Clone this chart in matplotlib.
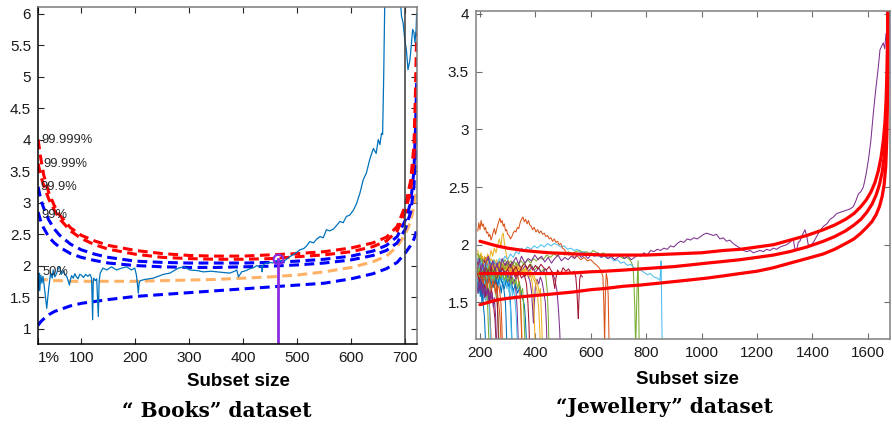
import matplotlib
matplotlib.use("Agg")
import matplotlib.pyplot as plt

plt.rcParams['font.family'] = ['Liberation Sans', 'DejaVu Sans']

# ---------------- "Books" panel ----------------
band_x = [20, 25, 30, 40, 50, 60, 80, 100, 125, 150, 200, 250, 300, 350, 400, 450,
          500, 550, 600, 640, 665, 685, 700, 710, 716, 719, 721]
b99999 = [4.00, 3.70, 3.45, 3.15, 2.95, 2.80, 2.60, 2.48, 2.39, 2.32, 2.24, 2.19, 2.16, 2.15,
          2.15, 2.17, 2.19, 2.22, 2.28, 2.36, 2.45, 2.62, 2.95, 3.35, 3.90, 4.80, 5.70]
b9999 = [3.62, 3.42, 3.28, 3.05, 2.88, 2.74, 2.55, 2.43, 2.33, 2.26, 2.18, 2.13, 2.11, 2.10,
         2.10, 2.11, 2.14, 2.17, 2.22, 2.30, 2.39, 2.55, 2.85, 3.20, 3.70, 4.40, 5.30]
b999 = [3.25, 3.05, 2.92, 2.72, 2.58, 2.48, 2.34, 2.25, 2.18, 2.13, 2.07, 2.05, 2.04, 2.04,
        2.04, 2.05, 2.07, 2.10, 2.15, 2.23, 2.32, 2.46, 2.72, 3.00, 3.50, 4.20, 4.90]
b99 = [2.85, 2.70, 2.60, 2.45, 2.36, 2.29, 2.19, 2.13, 2.08, 2.04, 2.00, 1.98, 1.97, 1.97,
       1.98, 1.99, 2.01, 2.04, 2.09, 2.16, 2.24, 2.36, 2.58, 2.85, 3.25, 3.70, 4.20]
b50 = [1.80, 1.79, 1.78, 1.77, 1.76, 1.76, 1.75, 1.75, 1.75, 1.75, 1.75, 1.76, 1.77, 1.78,
       1.80, 1.82, 1.85, 1.90, 1.97, 2.06, 2.15, 2.30, 2.50, 2.70, 2.95, 3.10, 3.25]
b01 = [1.05, 1.11, 1.15, 1.22, 1.27, 1.30, 1.36, 1.40, 1.43, 1.46, 1.51, 1.54, 1.57, 1.60,
       1.63, 1.66, 1.69, 1.72, 1.79, 1.87, 1.95, 2.05, 2.20, 2.32, 2.42, 2.50, 2.58]
band_names = ['99.999%', '99.99%', '99.9%', '99%', '50%']
band_label_x = [26, 30, 25, 26, 29]
band_label_y = [4.00, 3.62, 3.245, 2.80, 1.90]

books_x = [20, 21, 22, 23, 25, 27, 29, 31, 33, 36, 38, 40, 43, 46, 48, 51, 54, 57, 60, 63,
           67, 70, 73, 76, 78, 80, 82, 85, 88, 91, 94, 97, 100, 104, 108, 112, 116, 119,
           121, 122, 123, 126, 128.5, 130, 131.5, 133, 135, 140, 147, 156, 165, 175, 184,
           193, 199, 202, 204, 205.6, 207, 209, 218, 233, 252, 264, 280, 290, 301, 315,
           326, 340, 351, 363, 375, 384, 388, 391, 397, 405, 412, 420, 425, 430, 434, 435,
           436, 440, 449, 455, 462, 470, 477, 486, 496, 505, 512, 517, 523, 530, 536, 542,
           548, 554, 560, 567, 573, 579, 585, 591, 597, 604, 610, 616, 622, 628, 634, 641,
           646, 650, 653, 656, 658, 660, 662, 675, 690, 693, 696, 699, 702, 705, 708.7,
           713.7, 716, 718, 720, 721]
books_y = [1.77, 1.62, 1.88, 1.60, 1.85, 1.72, 1.83, 1.70, 1.55, 1.32, 1.50, 1.66, 1.88,
           1.80, 1.93, 1.82, 1.87, 1.95, 1.98, 1.86, 1.92, 1.85, 1.83, 1.75, 1.69, 1.78,
           1.84, 1.80, 1.87, 1.82, 1.79, 1.86, 1.85, 1.81, 1.86, 1.83, 1.86, 1.80, 1.14,
           1.70, 1.80, 1.76, 1.79, 1.50, 1.19, 1.75, 1.88, 1.96, 1.93, 1.98, 1.93, 1.96,
           1.98, 1.93, 1.96, 1.85, 1.70, 1.56, 1.72, 1.76, 1.78, 1.80, 1.86, 1.88, 1.96,
           1.98, 1.93, 1.92, 1.90, 1.91, 1.90, 1.89, 1.88, 1.91, 1.93, 1.82, 1.90, 1.92,
           1.95, 1.97, 2.00, 1.98, 1.99, 1.90, 2.00, 2.03, 2.05, 2.04, 2.08, 2.07, 2.08,
           2.14, 2.19, 2.25, 2.27, 2.31, 2.38, 2.36, 2.42, 2.46, 2.44, 2.57, 2.55, 2.58,
           2.64, 2.70, 2.68, 2.78, 2.80, 2.88, 2.99, 3.15, 3.36, 3.47, 3.68, 3.86, 3.78,
           4.00, 3.92, 4.10, 4.08, 5.00, 6.20, 7.50, 6.30, 5.96, 5.85, 5.59, 5.43, 5.11,
           5.27, 5.75, 5.70, 5.54, 5.75, 6.00]

stem_x = 465
stem_y = 2.10
vline_x = 700

books_xticks = [19.8, 100, 200, 300, 400, 500, 600, 700]
books_xticklabels = ['1%', '100', '200', '300', '400', '500', '600', '700']
books_yticks = [1, 1.5, 2, 2.5, 3, 3.5, 4, 4.5, 5, 5.5, 6]
books_yticklabels = ['1', '1.5', '2', '2.5', '3', '3.5', '4', '4.5', '5', '5.5', '6']

# ---------------- "Jewellery" panel ----------------
red_hi_x = [200, 230, 260, 300, 356, 400, 450, 500, 537, 600, 650, 717, 800, 900, 1000, 1080,
            1140, 1200, 1260, 1320, 1380, 1440, 1480, 1520, 1550, 1575, 1595, 1612, 1626,
            1638, 1648, 1656, 1662, 1666, 1669, 1671, 1672.5]
red_hi_y = [2.03, 2.01, 1.99, 1.97, 1.95, 1.94, 1.93, 1.925, 1.92, 1.915, 1.91, 1.91, 1.91,
            1.92, 1.93, 1.95, 1.96, 1.98, 2.00, 2.04, 2.08, 2.13, 2.17, 2.22, 2.27, 2.33,
            2.39, 2.46, 2.54, 2.64, 2.76, 2.90, 3.06, 3.25, 3.48, 3.75, 4.05]
red_mid_x = [200, 260, 330, 400, 470, 537, 600, 650, 720, 778, 840, 900, 960, 1018, 1080,
             1139, 1200, 1259, 1319, 1380, 1440, 1480, 1520, 1550, 1575, 1596, 1615, 1630,
             1642, 1652, 1659, 1664, 1668, 1671, 1673]
red_mid_y = [1.75, 1.75, 1.75, 1.75, 1.75, 1.755, 1.765, 1.77, 1.78, 1.79, 1.80, 1.81, 1.825,
             1.84, 1.855, 1.87, 1.89, 1.91, 1.94, 1.98, 2.03, 2.07, 2.12, 2.17, 2.22, 2.28,
             2.35, 2.43, 2.52, 2.63, 2.76, 2.92, 3.15, 3.50, 4.05]
red_lo_x = [200, 230, 260, 300, 356, 400, 450, 537, 600, 650, 720, 778, 840, 900, 960, 1018,
            1080, 1139, 1200, 1259, 1319, 1380, 1440, 1480, 1520, 1550, 1575, 1596, 1615,
            1630, 1642, 1652, 1659, 1665, 1669, 1672, 1674]
red_lo_y = [1.48, 1.50, 1.52, 1.535, 1.55, 1.56, 1.57, 1.59, 1.61, 1.62, 1.64, 1.65, 1.665,
            1.68, 1.695, 1.71, 1.73, 1.75, 1.77, 1.80, 1.84, 1.88, 1.92, 1.96, 2.01, 2.05,
            2.10, 2.15, 2.20, 2.26, 2.33, 2.42, 2.52, 2.68, 2.95, 3.40, 4.05]

purple_x = [192, 198, 204, 210, 216, 222, 230, 238, 246, 254, 262, 270, 280, 290, 300, 310,
            320, 330, 340, 350, 362, 374, 386, 398, 410, 422, 434, 446, 458, 470, 482, 494,
            506, 518, 530, 542, 554, 566, 578, 590, 602, 614, 626, 638, 650, 662, 674, 686,
            698, 710, 722, 734, 746, 758, 770, 780, 792, 804, 816, 828, 840, 852, 864, 876,
            888, 900, 912, 924, 936, 948, 960, 972, 984, 996, 1008, 1018, 1030, 1042, 1054,
            1066, 1078, 1090, 1102, 1114, 1126, 1139, 1151, 1163, 1175, 1187, 1199, 1211,
            1223, 1235, 1247, 1259, 1271, 1283, 1295, 1307, 1319, 1331, 1337, 1343, 1349,
            1355, 1361, 1367, 1373, 1379, 1385, 1391, 1397, 1406, 1415, 1427, 1440, 1452,
            1464, 1476, 1488, 1500, 1512, 1524, 1536, 1548, 1557, 1566, 1575, 1584, 1593,
            1602, 1611, 1620, 1629, 1638, 1644, 1650, 1656, 1661, 1666]
purple_y = [1.80, 1.88, 1.76, 1.84, 1.72, 1.86, 1.90, 1.80, 1.86, 1.78, 1.84, 1.76, 1.88,
            1.82, 1.86, 1.80, 1.85, 1.89, 1.83, 1.90, 1.84, 1.88, 1.86, 1.91, 1.87, 1.90,
            1.85, 1.89, 1.84, 1.88, 1.91, 1.86, 1.89, 1.87, 1.90, 1.88, 1.92, 1.89, 1.91,
            1.88, 1.92, 1.90, 1.93, 1.89, 1.91, 1.88, 1.90, 1.87, 1.89, 1.91, 1.88, 1.90,
            1.87, 1.89, 1.91, 1.90, 1.93, 1.91, 1.95, 1.94, 1.96, 1.95, 1.97, 1.96, 1.99,
            1.98, 2.01, 2.03, 2.02, 2.05, 2.04, 2.06, 2.05, 2.07, 2.09, 2.10, 2.09, 2.08,
            2.09, 2.05, 2.06, 2.03, 2.04, 2.01, 1.99, 1.97, 1.95, 1.94, 1.95, 1.93, 1.94,
            1.95, 1.94, 1.96, 1.95, 1.97, 1.96, 1.98, 1.99, 2.00, 2.02, 2.05, 1.96, 1.95,
            2.02, 2.03, 2.07, 2.10, 2.13, 2.08, 2.00, 1.99, 2.00, 2.03, 2.07, 2.12, 2.16,
            2.18, 2.22, 2.24, 2.27, 2.28, 2.29, 2.30, 2.31, 2.33, 2.38, 2.44, 2.46, 2.50,
            2.60, 2.73, 2.90, 3.14, 3.35, 3.54, 3.69, 3.72, 3.75, 3.70, 3.83]
orange_x = [192, 196, 200, 204, 208, 212, 216, 220, 224, 228, 232, 236, 240, 244, 248, 252,
            256, 260, 264, 268, 272, 276, 280, 284, 288, 292, 296, 300, 305, 310, 315, 320,
            325, 330, 335, 340, 345, 350, 355, 360, 365, 370, 375, 380, 385, 390, 396, 402,
            408, 414, 420, 426, 432, 438, 444, 450, 456, 462, 468, 474, 480, 486, 492, 498,
            504, 512, 520, 530, 540, 552, 564, 576, 588, 600, 612, 622, 630, 638, 644, 647,
            650, 653, 656, 660, 663, 666, 668]
orange_y = [2.12, 2.19, 2.13, 2.21, 2.16, 2.18, 2.13, 2.15, 2.10, 2.11, 2.07, 2.09, 2.04,
            2.07, 2.11, 2.14, 2.09, 2.13, 2.17, 2.20, 2.23, 2.19, 2.21, 2.16, 2.18, 2.12,
            2.13, 2.09, 2.08, 2.05, 2.07, 2.10, 2.12, 2.11, 2.15, 2.14, 2.19, 2.22, 2.24,
            2.20, 2.22, 2.18, 2.21, 2.17, 2.16, 2.13, 2.15, 2.11, 2.13, 2.10, 2.12, 2.09,
            2.10, 2.07, 2.08, 2.05, 2.06, 2.03, 2.05, 2.02, 2.03, 2.00, 2.01, 1.97, 1.96,
            1.93, 1.91, 1.92, 1.89, 1.90, 1.87, 1.89, 1.86, 1.87, 1.84, 1.82, 1.80, 1.77,
            1.72, 1.50, 1.15, 1.60, 1.75, 1.70, 1.55, 1.15, 1.10]
lblue_x = [192, 198, 204, 210, 218, 226, 234, 242, 250, 260, 270, 280, 290, 300, 310, 320,
           330, 340, 350, 360, 372, 384, 396, 408, 420, 432, 444, 456, 468, 480, 492, 504,
           516, 528, 540, 552, 564, 576, 588, 600, 612, 624, 636, 648, 660, 672, 684, 696,
           708, 720, 732, 744, 756, 768, 780, 792, 804, 816, 828, 840, 846, 850, 852, 854,
           856, 858]
lblue_y = [1.88, 1.80, 1.86, 1.78, 1.84, 1.80, 1.87, 1.83, 1.86, 1.82, 1.88, 1.85, 1.90,
           1.87, 1.92, 1.89, 1.94, 1.92, 1.97, 1.95, 1.98, 1.96, 1.99, 1.97, 2.00, 1.98,
           2.01, 1.99, 2.01, 2.00, 1.98, 1.99, 1.96, 1.97, 1.95, 1.96, 1.93, 1.94, 1.92,
           1.93, 1.90, 1.91, 1.89, 1.90, 1.88, 1.89, 1.86, 1.87, 1.84, 1.85, 1.82, 1.83,
           1.80, 1.79, 1.78, 1.76, 1.74, 1.75, 1.72, 1.71, 1.70, 1.69, 1.80, 1.86, 1.45,
           1.10]
green_x = [192, 198, 206, 214, 222, 230, 240, 250, 260, 270, 280, 290, 300, 312, 324, 336,
           348, 360, 372, 384, 392, 404, 416, 428, 441, 454, 467, 480, 493, 506, 519, 532,
           545, 561, 573, 585, 597, 609, 621, 633, 645, 657, 669, 681, 693, 705, 717, 729,
           741, 748, 753, 756, 759, 762, 765, 768, 771, 775]
green_y = [1.80, 1.72, 1.78, 1.70, 1.76, 1.81, 1.74, 1.79, 1.72, 1.78, 1.83, 1.79, 1.84,
           1.80, 1.85, 1.82, 1.86, 1.83, 1.87, 1.84, 1.88, 1.86, 1.89, 1.87, 1.91, 1.89,
           1.92, 1.90, 1.93, 1.91, 1.94, 1.92, 1.94, 1.95, 1.93, 1.94, 1.92, 1.95, 1.93,
           1.91, 1.93, 1.91, 1.92, 1.90, 1.91, 1.90, 1.88, 1.89, 1.87, 1.84, 1.80, 1.65,
           1.45, 1.10, 1.40, 1.70, 1.86, 1.10]
dred_x = [192, 198, 205, 212, 220, 228, 236, 244, 252, 260, 270, 280, 290, 300, 310, 320,
          330, 340, 350, 360, 370, 380, 390, 400, 410, 420, 430, 440, 450, 460, 466, 470,
          475, 480, 490, 500, 510, 520, 530, 540, 546, 550, 553, 555, 557, 560, 564, 570]
dred_y = [1.75, 1.68, 1.77, 1.70, 1.79, 1.73, 1.80, 1.74, 1.78, 1.71, 1.76, 1.80, 1.74,
          1.79, 1.83, 1.77, 1.81, 1.75, 1.80, 1.84, 1.79, 1.83, 1.78, 1.82, 1.79, 1.83,
          1.80, 1.78, 1.81, 1.76, 1.68, 1.62, 1.72, 1.78, 1.74, 1.80, 1.77, 1.79, 1.75,
          1.77, 1.72, 1.60, 1.45, 1.36, 1.50, 1.70, 1.74, 1.72]

# short trajectories that leave the crowd early
s01_x = [192, 197, 202, 207, 212, 217, 222, 227, 232, 237, 242, 247, 252, 257, 262, 267,
         272, 277, 282, 287, 292, 295, 298]
s01_y = [1.78, 1.70, 1.80, 1.74, 1.82, 1.69, 1.76, 1.71, 1.79, 1.66, 1.75, 1.70, 1.64,
         1.74, 1.62, 1.70, 1.66, 1.58, 1.68, 1.60, 1.50, 1.30, 1.05]
s02_x = [192, 196, 200, 204, 208, 212, 216, 220, 224, 228, 232, 236, 240, 244]
s02_y = [1.80, 1.66, 1.76, 1.62, 1.74, 1.58, 1.70, 1.52, 1.64, 1.48, 1.60, 1.40, 1.20, 1.05]
s03_x = [192, 198, 204, 210, 216, 222, 228, 234, 240, 246, 252, 258, 264, 270, 276, 280,
         284, 288, 292, 296, 302, 308, 314, 320, 326, 332, 338, 344, 348, 351, 353]
s03_y = [1.95, 1.88, 1.93, 1.84, 1.90, 1.86, 1.92, 1.87, 1.95, 1.90, 1.97, 1.93, 2.00,
         2.05, 1.98, 2.08, 2.10, 2.02, 1.96, 1.90, 1.86, 1.82, 1.84, 1.78, 1.80, 1.74,
         1.70, 1.62, 1.45, 1.25, 1.05]
s04_x = [192, 198, 205, 212, 220, 228, 236, 244, 252, 260, 270, 280, 290, 300, 310, 320,
         330, 340, 350, 360, 370, 380, 386, 390, 393, 396, 400, 406, 412, 418, 424, 430,
         436, 440, 443]
s04_y = [1.70, 1.78, 1.72, 1.80, 1.74, 1.68, 1.77, 1.72, 1.79, 1.70, 1.76, 1.71, 1.78,
         1.73, 1.69, 1.76, 1.70, 1.74, 1.78, 1.72, 1.75, 1.69, 1.60, 1.45, 1.32, 1.48,
         1.64, 1.70, 1.66, 1.72, 1.68, 1.60, 1.50, 1.30, 1.05]
s05_x = [192, 196, 201, 206, 211, 216, 221, 226, 231, 236, 241, 246, 251, 256, 261, 265, 268, 270]
s05_y = [1.65, 1.76, 1.67, 1.78, 1.70, 1.62, 1.74, 1.66, 1.72, 1.60, 1.70, 1.63, 1.68,
         1.58, 1.52, 1.40, 1.22, 1.05]
s06_x = [192, 195, 199, 203, 207, 211, 215, 219, 223, 227, 231, 235, 238, 240]
s06_y = [1.72, 1.60, 1.70, 1.56, 1.67, 1.54, 1.64, 1.52, 1.62, 1.48, 1.56, 1.40, 1.20, 1.05]
s07_x = [192, 196, 201, 206, 211, 216, 221, 226, 231, 236, 241, 246, 250, 254, 257, 260]
s07_y = [1.60, 1.70, 1.62, 1.72, 1.58, 1.68, 1.55, 1.66, 1.60, 1.50, 1.62, 1.54, 1.45,
         1.36, 1.22, 1.05]
s08_x = [192, 198, 204, 210, 216, 222, 228, 234, 240, 246, 252, 258, 264, 270, 276, 282,
         288, 294, 300, 305, 309, 312, 315, 318]
s08_y = [1.85, 1.78, 1.86, 1.80, 1.87, 1.79, 1.84, 1.76, 1.82, 1.77, 1.83, 1.75, 1.80,
         1.74, 1.79, 1.72, 1.77, 1.70, 1.74, 1.66, 1.55, 1.40, 1.20, 1.05]
s09_x = [192, 199, 206, 213, 220, 227, 234, 241, 248, 255, 262, 269, 276, 283, 290, 297,
         304, 311, 318, 325, 332, 339, 344, 347, 350, 352]
s09_y = [1.88, 1.82, 1.90, 1.84, 1.89, 1.83, 1.87, 1.81, 1.86, 1.80, 1.85, 1.79, 1.84,
         1.78, 1.83, 1.77, 1.82, 1.76, 1.80, 1.74, 1.78, 1.70, 1.62, 1.45, 1.25, 1.05]
s10_x = [192, 200, 208, 216, 224, 232, 240, 248, 256, 264, 272, 280, 290, 300, 310, 320,
         330, 340, 350, 360, 370, 380, 390, 400, 408, 414, 418, 421, 424, 426]
s10_y = [1.82, 1.87, 1.80, 1.85, 1.78, 1.84, 1.79, 1.86, 1.80, 1.84, 1.77, 1.83, 1.78,
         1.82, 1.76, 1.80, 1.75, 1.81, 1.77, 1.74, 1.79, 1.72, 1.76, 1.70, 1.66, 1.58,
         1.62, 1.45, 1.25, 1.05]
s11_x = [192, 198, 204, 210, 216, 222, 228, 234, 240, 246, 252, 258, 264, 270, 276, 282,
         288, 294, 300, 306, 312, 318, 324, 330, 334, 337, 340]
s11_y = [1.76, 1.83, 1.77, 1.84, 1.75, 1.81, 1.73, 1.80, 1.76, 1.82, 1.74, 1.79, 1.72,
         1.78, 1.74, 1.70, 1.77, 1.71, 1.75, 1.68, 1.73, 1.66, 1.70, 1.60, 1.45, 1.25, 1.05]
s12_x = [192, 200, 208, 216, 224, 232, 240, 250, 260, 270, 280, 290, 300, 312, 324, 336,
         348, 360, 372, 384, 396, 408, 420, 430, 438, 443, 447, 450]
s12_y = [1.83, 1.88, 1.81, 1.86, 1.82, 1.88, 1.83, 1.87, 1.81, 1.86, 1.82, 1.87, 1.83,
         1.86, 1.81, 1.85, 1.80, 1.84, 1.79, 1.83, 1.78, 1.81, 1.76, 1.79, 1.72, 1.60,
         1.35, 1.05]
s13_x = [192, 197, 202, 207, 212, 217, 222, 227, 232, 237, 242, 247, 252, 258, 264, 270,
         276, 282, 288, 294, 300, 306, 310, 313, 316]
s13_y = [1.78, 1.84, 1.76, 1.82, 1.75, 1.80, 1.73, 1.79, 1.74, 1.81, 1.72, 1.78, 1.71,
         1.77, 1.70, 1.76, 1.69, 1.74, 1.66, 1.71, 1.64, 1.58, 1.45, 1.25, 1.05]
s14_x = [192, 199, 206, 213, 220, 227, 234, 241, 248, 255, 262, 270, 280, 290, 300, 310,
         320, 330, 340, 350, 360, 368, 373, 377, 380]
s14_y = [1.80, 1.75, 1.82, 1.77, 1.84, 1.76, 1.81, 1.74, 1.80, 1.76, 1.82, 1.75, 1.80,
         1.74, 1.79, 1.73, 1.78, 1.72, 1.77, 1.71, 1.74, 1.66, 1.50, 1.30, 1.05]
s15_x = [192, 195, 198, 201, 204, 207, 210, 213, 216, 219, 222]
s15_y = [1.70, 1.58, 1.68, 1.55, 1.64, 1.50, 1.60, 1.45, 1.38, 1.22, 1.05]
s16_x = [192, 197, 202, 207, 212, 217, 222, 227, 232, 237, 242, 247, 252, 257, 262, 267,
         272, 276, 279, 282]
s16_y = [1.74, 1.66, 1.76, 1.68, 1.77, 1.70, 1.64, 1.74, 1.67, 1.72, 1.62, 1.70, 1.64,
         1.69, 1.60, 1.66, 1.58, 1.48, 1.30, 1.05]
s17_x = [192, 200, 208, 216, 224, 232, 240, 250, 260, 270, 280, 290, 300, 310, 320, 330,
         340, 350, 360, 370, 380, 388, 393, 397, 400]
s17_y = [1.92, 1.86, 1.90, 1.84, 1.89, 1.83, 1.88, 1.82, 1.87, 1.81, 1.86, 1.80, 1.84,
         1.79, 1.83, 1.77, 1.81, 1.76, 1.79, 1.73, 1.76, 1.68, 1.55, 1.30, 1.05]
s18_x = [192, 200, 210, 220, 230, 240, 250, 260, 270, 280, 292, 304, 316, 328, 340, 352,
         364, 376, 388, 400, 412, 424, 436, 448, 460, 470, 478, 484, 488, 491]
s18_y = [1.86, 1.80, 1.87, 1.82, 1.88, 1.81, 1.86, 1.80, 1.85, 1.79, 1.84, 1.80, 1.85,
         1.79, 1.83, 1.78, 1.82, 1.77, 1.81, 1.76, 1.80, 1.75, 1.79, 1.74, 1.77, 1.70,
         1.60, 1.42, 1.25, 1.05]
s19_x = [192, 196, 200, 204, 208, 212, 216, 220, 224, 228, 231, 234]
s19_y = [1.92, 1.85, 1.91, 1.82, 1.88, 1.78, 1.84, 1.72, 1.62, 1.45, 1.25, 1.05]
s20_x = [192, 197, 202, 207, 212, 217, 222, 227, 232, 237, 242, 247, 252, 257, 262, 267,
         272, 277, 282, 287, 292, 297, 302, 307, 312, 317, 322, 327, 331, 334, 336]
s20_y = [1.68, 1.76, 1.70, 1.78, 1.72, 1.66, 1.75, 1.69, 1.77, 1.71, 1.65, 1.74, 1.68,
         1.76, 1.70, 1.64, 1.72, 1.67, 1.73, 1.65, 1.70, 1.62, 1.68, 1.60, 1.66, 1.56,
         1.62, 1.50, 1.38, 1.20, 1.05]
s21_x = [192, 198, 204, 210, 216, 222, 228, 234, 240, 246, 252, 258, 262, 265, 268]
s21_y = [1.84, 1.78, 1.85, 1.79, 1.86, 1.80, 1.84, 1.77, 1.82, 1.74, 1.79, 1.68, 1.55, 1.30, 1.05]
s22_x = [192, 200, 208, 216, 224, 232, 240, 248, 256, 264, 272, 280, 288, 296, 304, 312,
         320, 328, 336, 344, 352, 360, 364, 367, 370]
s22_y = [1.62, 1.70, 1.64, 1.72, 1.66, 1.74, 1.68, 1.63, 1.71, 1.65, 1.73, 1.67, 1.62,
         1.70, 1.64, 1.69, 1.60, 1.66, 1.58, 1.64, 1.55, 1.48, 1.36, 1.20, 1.05]
s23_x = [192, 197, 202, 207, 212, 217, 222, 227, 232, 237, 242, 247, 252, 256, 260, 264,
         268, 272, 275, 278]
s23_y = [1.76, 1.70, 1.78, 1.72, 1.66, 1.75, 1.69, 1.63, 1.73, 1.67, 1.61, 1.70, 1.64,
         1.58, 1.66, 1.56, 1.48, 1.38, 1.22, 1.05]
s24_x = [192, 199, 206, 213, 220, 227, 234, 241, 248, 255, 262, 270, 278, 286, 294, 302,
         310, 318, 326, 334, 342, 350, 358, 366, 374, 382, 390, 398, 406, 412, 416, 419]
s24_y = [1.79, 1.84, 1.78, 1.85, 1.80, 1.86, 1.79, 1.84, 1.78, 1.83, 1.77, 1.84, 1.79,
         1.83, 1.77, 1.82, 1.78, 1.84, 1.79, 1.83, 1.77, 1.81, 1.76, 1.80, 1.75, 1.78,
         1.72, 1.68, 1.60, 1.45, 1.25, 1.05]
s25_x = [192, 196, 200, 204, 208, 212, 216, 220, 224, 228, 232, 236, 240, 244, 248, 252,
         256, 259, 261]
s25_y = [1.58, 1.68, 1.60, 1.70, 1.57, 1.66, 1.54, 1.64, 1.56, 1.62, 1.50, 1.60, 1.52,
         1.58, 1.46, 1.54, 1.40, 1.22, 1.05]
s26_x = [192, 198, 204, 210, 216, 222, 228, 234, 240, 246, 252, 258, 264, 270, 276, 282,
         288, 294, 300, 306, 312, 318, 324, 330, 336, 342, 348, 354, 358, 361, 364]
s26_y = [1.74, 1.80, 1.73, 1.79, 1.72, 1.78, 1.71, 1.77, 1.70, 1.76, 1.69, 1.75, 1.70,
         1.77, 1.71, 1.76, 1.69, 1.74, 1.68, 1.73, 1.66, 1.72, 1.65, 1.70, 1.62, 1.68,
         1.58, 1.62, 1.45, 1.25, 1.05]

jew_xticks = [200, 400, 600, 800, 1000, 1200, 1400, 1600]
jew_yticks = [1.5, 2, 2.5, 3, 3.5, 4]
jew_yticklabels = ['1.5', '2', '2.5', '3', '3.5', '4']

# MATLAB default line colours
C = ['#0072BD', '#D95319', '#EDB120', '#7E2F8E', '#77AC30', '#4DBEEE', '#A2142F']

fig = plt.figure(figsize=(8.92, 4.24), dpi=100)

# ===== left: Books =====
ax1 = fig.add_axes([0.0426, 0.188, 0.4249, 0.7948])
dash = (3.2, 1.8)
ax1.plot(band_x, b01, color='#0000FF', lw=2.2, dashes=dash)
ax1.plot(band_x, b50, color='#FFB266', lw=2.2, dashes=dash)
ax1.plot(band_x, b99, color='#0000FF', lw=2.2, dashes=dash)
ax1.plot(band_x, b999, color='#0000FF', lw=2.2, dashes=dash)
ax1.plot(band_x, b9999, color='#FF0000', lw=2.2, dashes=dash)
ax1.plot(band_x, b99999, color='#FF0000', lw=2.2, dashes=dash)
ax1.plot(books_x, books_y, color='#0072BD', lw=0.9)
ax1.axvline(vline_x, color='#3a3a3a', lw=1.1)
ax1.plot([stem_x, stem_x], [0.5, stem_y], color='#8A2BE2', lw=2)
ax1.plot([stem_x], [stem_y], marker='o', ms=7, mfc='none', mec='#8A2BE2', mew=1.6)
for lx, ly, name in zip(band_label_x, band_label_y, band_names):
    ax1.text(lx, ly, name, fontsize=9.3, ha='left', va='center', color='#262626')

ax1.set_xlim(19.8, 721.7)
ax1.set_ylim(0.75, 6.1)
ax1.set_xticks(books_xticks)
ax1.set_xticklabels(books_xticklabels)
ax1.get_xticklabels()[0].set_horizontalalignment('left')
ax1.set_yticks(books_yticks)
ax1.set_yticklabels(books_yticklabels)
ax1.tick_params(direction='in', length=4, width=0.8, labelsize=11, top=True, right=True,
                colors='#262626', labelcolor='#1a1a1a', pad=5)
for side in ['left', 'bottom']:
    ax1.spines[side].set_color('#000000')
for side in ['top', 'right']:
    ax1.spines[side].set_color('#7a7a7a')
for sp in ax1.spines.values():
    sp.set_linewidth(1.1)

# ===== right: Jewellery =====
ax2 = fig.add_axes([0.5336, 0.1998, 0.4641, 0.7743])
short = [(s01_x, s01_y), (s02_x, s02_y), (s03_x, s03_y), (s04_x, s04_y), (s05_x, s05_y),
         (s06_x, s06_y), (s07_x, s07_y), (s08_x, s08_y), (s09_x, s09_y), (s10_x, s10_y),
         (s11_x, s11_y), (s12_x, s12_y), (s13_x, s13_y), (s14_x, s14_y), (s15_x, s15_y),
         (s16_x, s16_y), (s17_x, s17_y), (s18_x, s18_y), (s19_x, s19_y), (s20_x, s20_y),
         (s21_x, s21_y), (s22_x, s22_y), (s23_x, s23_y), (s24_x, s24_y), (s25_x, s25_y),
         (s26_x, s26_y)]
for i, (xs, ys) in enumerate(short):
    ax2.plot(xs, ys, color=C[i % 7], lw=0.75)
long = [(dred_x, dred_y, C[6]), (green_x, green_y, C[4]), (lblue_x, lblue_y, C[5]),
        (orange_x, orange_y, C[1]), (purple_x, purple_y, C[3])]
for xs, ys, c in long:
    ax2.plot(xs, ys, color=c, lw=0.75)
for xs, ys in [(red_hi_x, red_hi_y), (red_mid_x, red_mid_y), (red_lo_x, red_lo_y)]:
    ax2.plot(xs, ys, color='#FF0000', lw=2.3, solid_capstyle='round')

ax2.set_xlim(185.6, 1680)
ax2.set_ylim(1.18, 4.026)
ax2.set_xticks(jew_xticks)
ax2.set_yticks(jew_yticks)
ax2.set_yticklabels(jew_yticklabels)
ax2.tick_params(direction='in', length=4, width=0.8, labelsize=11, top=True, right=True,
                colors='#6e6e6e', labelcolor='#1a1a1a', pad=5)
for sp in ax2.spines.values():
    sp.set_color('#808080')
    sp.set_linewidth(1.1)

# axis titles and captions
fig.text(238 / 892, 1 - 382 / 424, 'Subset size', ha='center', va='center',
         fontsize=13.5, fontweight='bold')
fig.text(687 / 892, 1 - 379 / 424, 'Subset size', ha='center', va='center',
         fontsize=13.5, fontweight='bold')
fig.text(217 / 892, 1 - 411 / 424, '\u201c Books\u201d dataset', ha='center', va='center',
         fontsize=14.5, fontweight='bold', family='DejaVu Serif')
fig.text(664 / 892, 1 - 407 / 424, '\u201cJewellery\u201d dataset', ha='center', va='center',
         fontsize=14.5, fontweight='bold', family='DejaVu Serif')

fig.savefig('out.png', dpi=100)
